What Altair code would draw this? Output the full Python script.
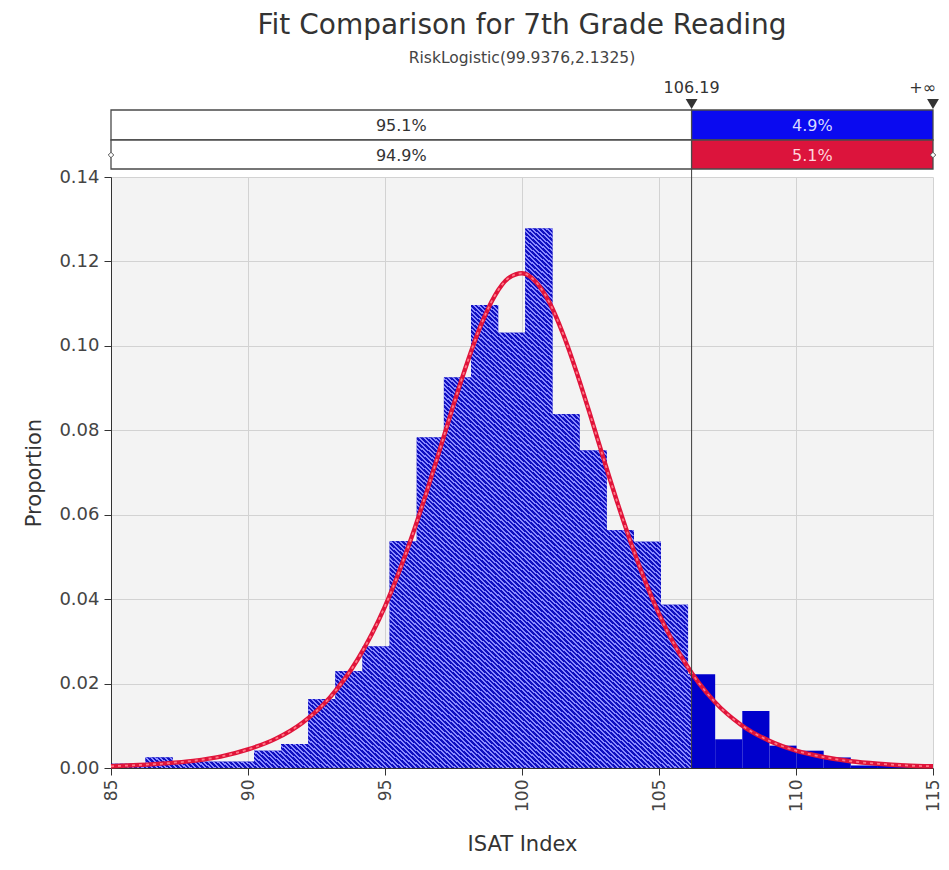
import altair as alt
import pandas as pd

# ---------------- data ----------------
bin_width = 0.99
bin_start = [84.28, 85.27, 86.26, 87.25, 88.24, 89.23, 90.22, 91.21, 92.20, 93.19,
             94.18, 95.17, 96.16, 97.15, 98.14, 99.13, 100.12, 101.11, 102.10, 103.09,
             104.08, 105.07, 106.06, 107.05, 108.04, 109.03, 110.02, 111.01, 112.00,
             112.99, 113.98]
bin_height = [0.0010, 0.0010, 0.0025, 0.0015, 0.0015, 0.0015, 0.0041, 0.0057, 0.0163, 0.0229,
              0.0288, 0.0537, 0.0783, 0.0925, 0.1097, 0.1031, 0.1278, 0.0838, 0.0752, 0.0563,
              0.0536, 0.0387, 0.0222, 0.0068, 0.0135, 0.0053, 0.0041, 0.0025, 0.0006,
              0.0008, 0.0005]

curve_x = [85, 86, 87, 88, 89, 90, 91, 92, 93, 94, 95, 96, 96.5, 97, 97.5, 98, 98.5, 99,
           99.5, 100, 100.5, 101, 101.5, 102, 102.5, 103, 103.5, 104, 105, 106, 107, 108,
           109, 110, 111, 112, 113, 114, 115]
curve_y = [0.0004, 0.0007, 0.0011, 0.0017, 0.0027, 0.0044, 0.0069, 0.0108, 0.0168, 0.0257,
           0.0383, 0.0552, 0.0650, 0.0754, 0.0860, 0.0960, 0.1049, 0.1118, 0.1160, 0.1172,
           0.1152, 0.1103, 0.1028, 0.0936, 0.0834, 0.0728, 0.0625, 0.0529, 0.0365, 0.0244,
           0.0159, 0.0102, 0.0065, 0.0041, 0.0026, 0.0016, 0.0010, 0.0006, 0.0004]

cut_value = 106.19
x_min, x_max = 85, 115
row1_labels = ["95.1%", "4.9%"]
row2_labels = ["94.9%", "5.1%"]
x_ticks = [85, 90, 95, 100, 105, 110, 115]
y_ticks = [0.0, 0.02, 0.04, 0.06, 0.08, 0.10, 0.12, 0.14]
title_text = "Fit Comparison for 7th Grade Reading"
subtitle_text = "RiskLogistic(99.9376,2.1325)"
cut_label = "106.19"
inf_label = "+\u221e"

# ---------------- styling ----------------
W, H = 822, 591
FONT = "DejaVu Sans"
BLUE_SOLID = "#0000cc"
BLUE_TOP = "#0a0af0"
CRIMSON = "#dc143c"
DARK = "#333333"

bars_df = pd.DataFrame({
    "start": bin_start,
    "end": [s + bin_width for s in bin_start],
    "h": bin_height,
})

hx, hy = [], []
for s, h in zip(bin_start, bin_height):
    if s < cut_value:
        hx.append(s)
        hy.append(h)
hx.append(cut_value)
hy.append(hy[-1])
hatch_df = pd.DataFrame({"x": hx, "y": hy})

curve_df = pd.DataFrame({"x": curve_x, "y": curve_y})

# diagonal hatch imitation through a striped linear gradient
N_STRIPES = 250
FRAC = 0.55
stops = []
for i in range(N_STRIPES):
    a = i / N_STRIPES
    b = (i + FRAC) / N_STRIPES
    c = (i + 1) / N_STRIPES
    stops += [alt.GradientStop(offset=a, color="#1010c0"),
              alt.GradientStop(offset=b, color="#1010c0"),
              alt.GradientStop(offset=b, color="#8a8aff"),
              alt.GradientStop(offset=c, color="#8a8aff")]
hatch_grad = alt.LinearGradient(gradient="linear", stops=stops, x1=0, y1=1, x2=1, y2=0)

xs = alt.Scale(domain=[x_min, x_max], nice=False, zero=False)
ys = alt.Scale(domain=[0, 0.14], nice=False, zero=True)

x_axis = alt.Axis(values=x_ticks, format="d", labelAngle=270, labelFontSize=17,
                  labelFont=FONT, labelColor="#444", labelPadding=4,
                  tickSize=7, tickColor=DARK, domainColor=DARK, gridColor="#d2d2d2",
                  title="ISAT Index", titleFont=FONT, titleFontSize=21,
                  titleFontWeight="normal", titleColor=DARK,
                  titleBaseline="alphabetic", titleY=82)
y_axis = alt.Axis(values=y_ticks, format=".2f", labelFontSize=18, labelFont=FONT,
                  labelColor="#444", labelPadding=5, tickSize=7, tickColor=DARK,
                  domainColor=DARK, gridColor="#d2d2d2",
                  title="Proportion", titleFont=FONT, titleFontSize=21,
                  titleFontWeight="normal", titleColor=DARK,
                  titleX=-77, titleY=H / 2, titleBaseline="middle")

bars = alt.Chart(bars_df).mark_rect(color=BLUE_SOLID, clip=True).encode(
    x=alt.X("start:Q", scale=xs, axis=x_axis),
    x2="end:Q",
    y=alt.Y("h:Q", scale=ys, axis=y_axis),
    y2=alt.datum(0),
)

hatch = alt.Chart(hatch_df).mark_area(interpolate="step-after", color=hatch_grad,
                                       clip=True).encode(
    x=alt.X("x:Q", scale=xs),
    y=alt.Y("y:Q", scale=ys),
)

curve_main = alt.Chart(curve_df).mark_line(color="#e0143a", strokeWidth=4.4,
                                           interpolate="monotone").encode(
    x=alt.X("x:Q", scale=xs), y=alt.Y("y:Q", scale=ys))
curve_dash = alt.Chart(curve_df).mark_line(color="#ff7585", strokeWidth=1.8,
                                           strokeDash=[3, 4],
                                           interpolate="monotone").encode(
    x=alt.X("x:Q", scale=xs), y=alt.Y("y:Q", scale=ys))

cut_df = pd.DataFrame({"x": [cut_value]})
cut_rule = alt.Chart(cut_df).mark_rule(color="#3c3c3c", strokeWidth=1).encode(
    x=alt.X("x:Q", scale=xs), y=alt.value(-67), y2=alt.value(H))

def row_df(labels, fill_right, text_right):
    return pd.DataFrame({
        "x": [x_min, cut_value],
        "x2": [cut_value, x_max],
        "mid": [(x_min + cut_value) / 2, (cut_value + x_max) / 2],
        "label": labels,
        "fill": ["#ffffff", fill_right],
        "tc": [DARK, text_right],
    })

r1 = row_df(row1_labels, BLUE_TOP, "#d8d8ff")
r2 = row_df(row2_labels, CRIMSON, "#ffd6de")

def row_layers(df, ytop, ybot):
    rect = alt.Chart(df).mark_rect(stroke="#4a4a4a", strokeWidth=1.3).encode(
        x=alt.X("x:Q", scale=xs), x2="x2:Q",
        y=alt.value(ytop), y2=alt.value(ybot),
        fill=alt.Fill("fill:N", scale=None))
    txt = alt.Chart(df).mark_text(font=FONT, fontSize=16, baseline="middle").encode(
        x=alt.X("mid:Q", scale=xs), y=alt.value((ytop + ybot) / 2 + 1),
        text="label:N", color=alt.Color("tc:N", scale=None))
    return rect + txt

row1 = row_layers(r1, -67, -37)
row2 = row_layers(r2, -37, -8)

tri_df = pd.DataFrame({"x": [cut_value, x_max]})
triangles = alt.Chart(tri_df).mark_point(shape="triangle-down", filled=True, size=140,
                                         color="#333", opacity=1).encode(
    x=alt.X("x:Q", scale=xs), y=alt.value(-73))

dia_df = pd.DataFrame({"x": [x_min, x_max]})
diamonds = alt.Chart(dia_df).mark_point(shape="diamond", filled=True, size=30,
                                        fill="white", stroke="#555", strokeWidth=1,
                                        opacity=1).encode(
    x=alt.X("x:Q", scale=xs), y=alt.value(-22))

cut_txt = alt.Chart(pd.DataFrame({"x": [cut_value], "t": [cut_label]})).mark_text(
    font=FONT, fontSize=16, color=DARK, align="center", baseline="alphabetic").encode(
    x=alt.X("x:Q", scale=xs), y=alt.value(-84), text="t:N")
inf_txt = alt.Chart(pd.DataFrame({"x": [x_max], "t": [inf_label]})).mark_text(
    font=FONT, fontSize=16, color=DARK, align="right", baseline="alphabetic", dx=3).encode(
    x=alt.X("x:Q", scale=xs), y=alt.value(-84), text="t:N")

title = alt.Chart(pd.DataFrame({"t": [title_text]})).mark_text(
    font=FONT, fontSize=28, color=DARK, align="center", baseline="alphabetic").encode(
    x=alt.value(W / 2), y=alt.value(-143), text="t:N")
subtitle = alt.Chart(pd.DataFrame({"t": [subtitle_text]})).mark_text(
    font=FONT, fontSize=15.5, color="#444", align="center", baseline="alphabetic").encode(
    x=alt.value(W / 2), y=alt.value(-114), text="t:N")

chart = alt.layer(
    bars, hatch, curve_main, curve_dash, cut_rule, row1, row2, triangles, diamonds,
    cut_txt, inf_txt, title, subtitle
).properties(
    width=W, height=H,
    autosize=alt.AutoSizeParams(type="none"),
    padding={"left": 103, "top": 169, "right": 8, "bottom": 88},
    background="white",
).configure_view(fill="#f3f3f3", strokeWidth=0)

chart.save("out.html", embed_options={"renderer": "svg", "actions": False})
